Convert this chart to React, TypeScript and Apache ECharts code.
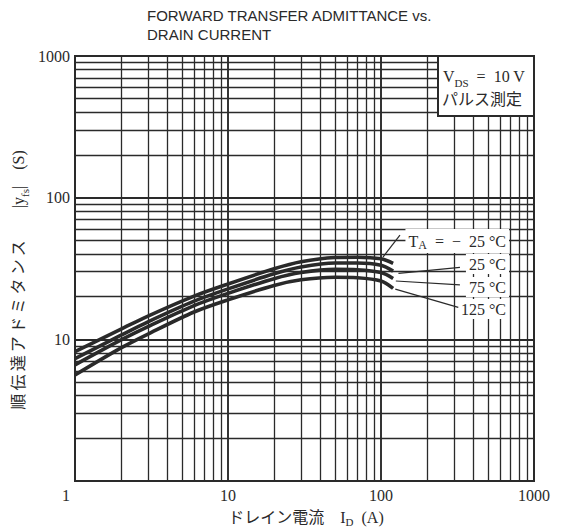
import React, { useEffect, useRef } from "react";
import * as echarts from "echarts";

// Drain current I_D (A)
const currentA = [1, 2, 3, 6, 10, 20, 30, 50, 70, 100, 120];
// |yfs| (S) for each ambient temperature
const yfsM25 = [8.2, 11.8, 14.6, 20.2, 24.6, 31.5, 35.3, 37.8, 38, 37, 34.4];
const yfs25 = [7.3, 10.7, 13.3, 18.6, 22.7, 29, 32.4, 34.6, 34.6, 33.3, 30.3];
const yfs75 = [6.6, 9.9, 12.3, 17.3, 21.1, 26.8, 29.6, 31.2, 31, 29.6, 26.9];
const yfs125 = [5.6, 8.7, 10.9, 15.6, 19, 24, 26.3, 27.4, 27.2, 25.8, 22.9];

// leader lines (data coords) from curve ends to labels
const leaderM25 = [[103, 38.1], [133, 54.5]];
const leader25 = [[130, 29.2], [328, 32.2]];
const leader75 = [[125, 25.8], [328, 24.2]];
const leader125 = [[124, 22.6], [320, 16.8]];

// grid lines
const gridMinor = [2, 3, 4, 5, 6, 7, 8, 9, 20, 30, 40, 50, 60, 70, 80, 90, 200, 300, 400, 500, 600, 700, 800, 900];
const gridMajor = [10, 100];

const titleLines = ["FORWARD TRANSFER ADMITTANCE vs.", "DRAIN CURRENT"];
const tempLabels = ["T{sub|A}  =  −  25 °C", "25 °C", "75 °C", "125 °C"];

const SERIF = '"Liberation Serif", "DejaVu Serif", "Noto Sans CJK JP", serif';
const INK = "#2a2a2a";

export default function App() {
  const ref = useRef<HTMLDivElement>(null);
  useEffect(() => {
    if (!ref.current) return;
    const chart = echarts.init(ref.current, undefined, { renderer: "svg" });
    const curve = (name: string, vals: number[]) => ({
      name,
      type: "line",
      smooth: 0.3,
      showSymbol: false,
      z: 10,
      lineStyle: { color: INK, width: 3.6 },
      data: currentA.map((x, i) => [x, vals[i]]),
    });
    const leader = (pts: number[][]) => ({
      type: "line",
      showSymbol: false,
      z: 11,
      lineStyle: { color: INK, width: 1.2 },
      data: pts,
    });
    const gl = { color: INK, width: 1.3, type: "solid" };
    const glMajor = { color: INK, width: 1.9, type: "solid" };
    const option: any = {
      animation: false,
      grid: {
        left: 75,
        top: 56,
        width: 459,
        height: 425,
        show: true,
        borderColor: INK,
        borderWidth: 2,
        backgroundColor: "transparent",
      },
      xAxis: {
        type: "log",
        logBase: 10,
        min: 1,
        max: 1000,
        axisLine: { show: false },
        axisTick: { show: false },
        splitLine: { show: false },
        axisLabel: {
          margin: 6,
          color: INK,
          fontFamily: SERIF,
          fontSize: 16,
          formatter: (v: number) => {
            const r = Math.round(v);
            return r === 1 ? "{first|1}" : String(r);
          },
          rich: { first: { fontSize: 16, fontFamily: SERIF, color: INK, padding: [0, 18, 0, 0] } },
        },
      },
      yAxis: {
        type: "log",
        logBase: 10,
        min: 1,
        max: 1000,
        axisLine: { show: false },
        axisTick: { show: false },
        splitLine: { show: false },
        axisLabel: {
          margin: 5,
          color: INK,
          fontFamily: SERIF,
          fontSize: 16,
          formatter: (v: number) => {
            const r = Math.round(v);
            return r === 1 ? "" : String(r);
          },
        },
      },
      series: [
        {
          type: "line",
          z: 1,
          showSymbol: false,
          lineStyle: { opacity: 0 },
          data: [[1, 1]],
          markLine: {
            silent: true,
            symbol: "none",
            animation: false,
            label: { show: false },
            lineStyle: gl,
            data: [
              ...gridMinor.map((v) => ({ xAxis: v })),
              ...gridMinor.map((v) => ({ yAxis: v })),
              ...gridMajor.map((v) => ({ xAxis: v, lineStyle: glMajor })),
              ...gridMajor.map((v) => ({ yAxis: v, lineStyle: glMajor })),
            ],
          },
        },
        curve("-25", yfsM25),
        curve("25", yfs25),
        curve("75", yfs75),
        curve("125", yfs125),
        leader(leaderM25),
        leader(leader25),
        leader(leader75),
        leader(leader125),
      ],
      graphic: [
        {
          type: "text",
          x: 147,
          y: 6,
          z: 20,
          style: {
            text: titleLines.join("\n"),
            fontFamily: '"Liberation Sans", Arial, sans-serif',
            fontSize: 15,
            lineHeight: 19,
            fill: INK,
            verticalAlign: "top",
          },
        },
        {
          type: "rect",
          z: 20,
          shape: { x: 438, y: 56, width: 96, height: 60 },
          style: { fill: "#fff", stroke: INK, lineWidth: 2 },
        },
        {
          type: "text",
          x: 443,
          y: 76,
          z: 21,
          style: {
            text: "V{sub|DS}  =  10 V",
            fontFamily: SERIF,
            fontSize: 16,
            fill: INK,
            verticalAlign: "middle",
            rich: {
              sub: { fontSize: 11, fontFamily: SERIF, fill: INK, verticalAlign: "bottom", lineHeight: 24 },
            },
          },
        },
        {
          type: "text",
          x: 442,
          y: 99,
          z: 21,
          style: {
            text: "パルス測定",
            fontFamily: SERIF,
            fontSize: 16,
            fill: INK,
            verticalAlign: "middle",
          },
        },
        ...tempLabels.map((t, i) => ({
          type: "text",
          x: 509,
          y: [241, 264, 287, 309][i],
          z: 8,
          style: {
            text: t,
            fontFamily: SERIF,
            fontSize: 16,
            fill: INK,
            align: "right",
            verticalAlign: "middle",
            backgroundColor: "#fff",
            padding: [2, 3, 2, 3],
            rich: {
              sub: { fontSize: 12, fontFamily: SERIF, fill: INK, verticalAlign: "bottom", lineHeight: 20 },
            },
          },
        })),
        {
          type: "text",
          x: 18,
          y: 280,
          rotation: Math.PI / 2,
          z: 20,
          style: {
            text: "順\u2009伝\u2009達\u2009ア\u2009ド\u2009ミ\u2009タ\u2009ン\u2009ス　　|y{sub|fs}|　(S)",
            fontFamily: SERIF,
            fontSize: 16,
            fill: INK,
            align: "center",
            verticalAlign: "middle",
            rich: {
              sub: { fontSize: 11, fontFamily: SERIF, fill: INK, verticalAlign: "bottom", lineHeight: 24 },
            },
          },
        },
        {
          type: "text",
          x: 306,
          y: 517,
          z: 20,
          style: {
            text: "ドレイン電流　I{sub|D}  (A)",
            fontFamily: SERIF,
            fontSize: 16,
            fill: INK,
            align: "center",
            verticalAlign: "middle",
            rich: {
              sub: { fontSize: 11, fontFamily: SERIF, fill: INK, verticalAlign: "bottom", lineHeight: 20 },
            },
          },
        },
      ],
    };
    chart.setOption(option);
    return () => chart.dispose();
  }, []);
  return (
    <div
      ref={ref}
      style={{ position: "fixed", left: 0, top: 0, width: 561, height: 532, background: "#fff" }}
    />
  );
}
